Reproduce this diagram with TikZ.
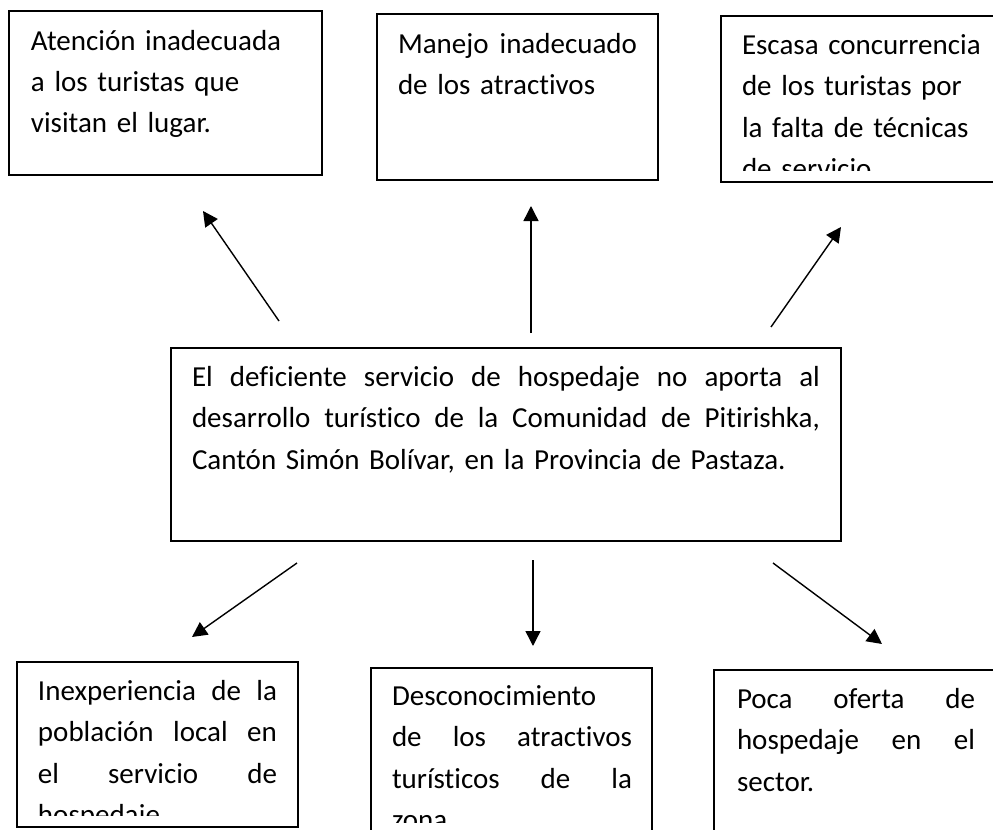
\documentclass[tikz,border=0pt]{standalone}
\usepackage{fontspec}
\setmainfont{Carlito}[Ligatures={NoCommon}]
\usetikzlibrary{arrows.meta}
\newcommand\jline[2]{\leavevmode\hbox to #1{\spaceskip=\fontdimen2\font plus 1fil\relax #2}}
\begin{document}
\begin{tikzpicture}[x=0.5pt,y=-0.5pt,
  boxstyle/.style={draw, line width=0.9pt, inner sep=0pt, outer sep=0pt, anchor=north west},
  txt/.style={anchor=base west, inner sep=0pt, outer sep=0pt, align=left,
    font=\fontsize{14.5pt}{20.75pt}\selectfont},
  arr/.style={line width=0.7pt, -{Triangle[length=7.5pt,width=7.5pt]}}]
\useasboundingbox (0,0) rectangle (993,830);
\clip (0,0) rectangle (993,830);
% boxes
\node[boxstyle, minimum width=156.5pt, minimum height=82pt] (b1) at (9,11) {};
\node[boxstyle, minimum width=140.5pt, minimum height=83pt] (b2) at (377,14) {};
\node[boxstyle, minimum width=145pt, minimum height=83pt] (b3) at (721,16) {};
\node[boxstyle, minimum width=335pt, minimum height=96.5pt] (c) at (171,348) {};
\node[boxstyle, minimum width=140.5pt, minimum height=82.5pt] (b4) at (17,662) {};
\node[boxstyle, minimum width=140.5pt, minimum height=90pt] (b5) at (371,668) {};
\node[boxstyle, minimum width=150pt, minimum height=90pt] (b6) at (714,670) {};
% texts
\node[txt, text width=135pt] (t1) at (31,50) {Atención inadecuada\\a los turistas que\\visitan el lugar.};
\node[txt, text width=125pt] (t2) at (398,53.5) {\jline{119.5pt}{Manejo inadecuado}\\de los atractivos};
\begin{scope}
\clip (721,16) rectangle (993,170);
\node[txt, text width=130pt] (t3) at (742,54.5) {Escasa concurrencia\\de los turistas por\\la falta de técnicas\\de servicio.};
\end{scope}
\node[txt, text width=320pt] (tc) at (192,386.5) {\jline{314pt}{El deficiente servicio de hospedaje no aporta al}\\\jline{314pt}{desarrollo turístico de la Comunidad de Pitirishka,}\\Cantón Simón Bolívar, en la Provincia de Pastaza.};
\begin{scope}
\clip (17,662) rectangle (298,815);
\node[txt, text width=125pt] (t4) at (38,700) {\jline{119.5pt}{Inexperiencia de la}\\\jline{119.5pt}{población local en}\\\jline{119.5pt}{el servicio de}\\hospedaje.};
\end{scope}
\begin{scope}
\clip (371,668) rectangle (652,822);
\node[txt, text width=125pt] (t5) at (392,705) {Desconocimiento\\\jline{120pt}{de los atractivos}\\\jline{120pt}{turísticos de la}\\zona.};
\end{scope}
\node[txt, text width=125pt] (t6) at (737,708) {\jline{119pt}{Poca oferta de}\\\jline{119pt}{hospedaje en el}\\sector.};
% arrows
\coordinate (a1s) at (279,321); \coordinate (a1e) at (203,211);
\coordinate (a2s) at (531,333); \coordinate (a2e) at (531,206);
\coordinate (a3s) at (771,327); \coordinate (a3e) at (841,227);
\coordinate (a4s) at (297,563); \coordinate (a4e) at (192,637);
\coordinate (a5s) at (533,560); \coordinate (a5e) at (533,646);
\coordinate (a6s) at (773,563); \coordinate (a6e) at (882,644);
\draw[arr] (a1s) -- (a1e);
\draw[arr] (a2s) -- (a2e);
\draw[arr] (a3s) -- (a3e);
\draw[arr] (a4s) -- (a4e);
\draw[arr] (a5s) -- (a5e);
\draw[arr] (a6s) -- (a6e);
\end{tikzpicture}
\end{document}
